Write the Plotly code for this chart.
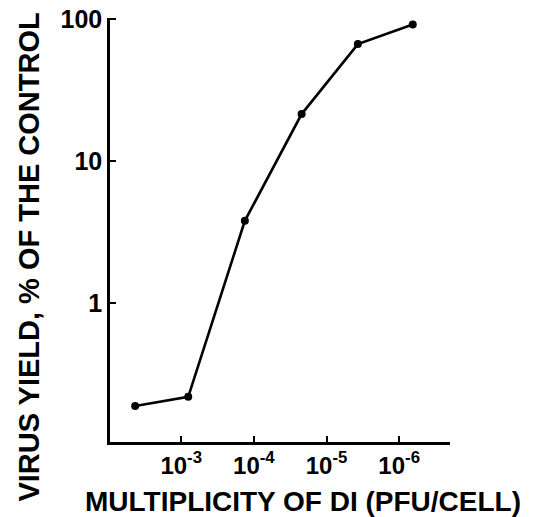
import plotly.graph_objects as go

# Data (x = multiplicity of DI, y = % of control)
multiplicity = [4.3e-3, 8.0e-4, 1.33e-4, 2.2e-5, 3.7e-6, 6.5e-7]
virus_yield = [0.188, 0.218, 3.8, 21.5, 67.0, 92.0]

x_tick_vals = [1e-3, 1e-4, 1e-5, 1e-6]
x_tick_text = ["10<sup>-3</sup>", "10<sup>-4</sup>", "10<sup>-5</sup>", "10<sup>-6</sup>"]
y_tick_vals = [1, 10, 100]
y_tick_text = ["1", "10", "100"]

FONT = "Liberation Sans, Arial, sans-serif"

fig = go.Figure()
fig.add_trace(go.Scatter(
    x=multiplicity, y=virus_yield, mode="lines+markers",
    line=dict(color="black", width=2.6),
    marker=dict(color="black", size=8),
    showlegend=False,
))

fig.update_xaxes(
    type="log", range=[-2.02, -6.70], automargin=False,
    tickvals=x_tick_vals, ticktext=x_tick_text,
    ticks="inside", ticklen=6, tickwidth=2, tickcolor="black",
    showline=True, linecolor="black", linewidth=2.5,
    showgrid=False, zeroline=False,
    tickfont=dict(family=FONT, size=24, color="black", weight="bold"),
)
fig.update_yaxes(
    type="log", range=[-0.98, 2.01], automargin=False,
    tickvals=y_tick_vals, ticktext=y_tick_text,
    ticks="inside", ticklen=6, tickwidth=2, tickcolor="black",
    showline=True, linecolor="black", linewidth=2.5,
    showgrid=False, zeroline=False,
    tickfont=dict(family=FONT, size=25, color="black", weight="bold"),
)

fig.add_annotation(
    text="<b>VIRUS YIELD, % OF THE CONTROL</b>", textangle=-90,
    xref="paper", yref="paper", x=-0.241, y=0.435,
    showarrow=False, xanchor="center", yanchor="middle",
    font=dict(family=FONT, size=29, color="black"),
)
fig.add_annotation(
    text="<b>MULTIPLICITY OF DI (PFU/CELL)</b>",
    xref="paper", yref="paper", x=0.568, y=-0.14,
    showarrow=False, xanchor="center", yanchor="middle",
    font=dict(family=FONT, size=28, color="black"),
)

fig.update_layout(
    width=533, height=517,
    margin=dict(l=110, r=83, t=18, b=75, autoexpand=False),
    plot_bgcolor="white", paper_bgcolor="white",
)

# remove the default page margin so the figure sits at the window's corner
fig.write_html(
    "out.html",
    config={"displayModeBar": False},
    post_script="document.body.style.margin='0';document.body.style.overflow='hidden';",
)
